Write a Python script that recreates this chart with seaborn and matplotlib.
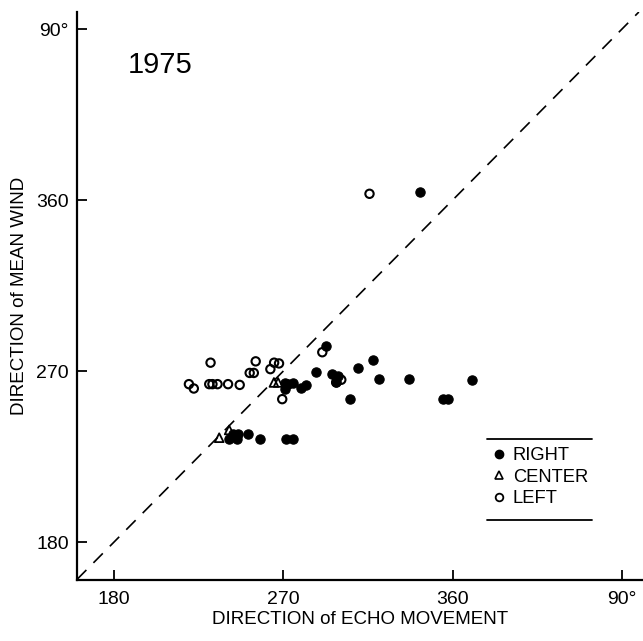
import matplotlib
matplotlib.use("Agg")
import matplotlib.pyplot as plt
from matplotlib.lines import Line2D
import seaborn as sns
import pandas as pd

# ---- data (degrees) ----
right_x = [292.5, 317.9, 309.6, 287.5, 296.0, 299.0, 297.8, 320.7, 337.0, 370.3,
           305.6, 355.0, 357.3, 270.7, 272.5, 275.1, 270.7, 279.6, 282.2,
           241.2, 245.1, 243.3, 246.0, 251.2, 257.5, 271.2, 275.1, 342.7]
right_y = [283.0, 276.0, 271.6, 269.3, 268.4, 267.5, 264.0, 265.8, 265.8, 265.4,
           255.2, 255.2, 255.2, 263.5, 263.1, 263.5, 260.8, 261.0, 262.8,
           234.0, 234.0, 237.0, 237.0, 237.0, 234.0, 234.0, 234.0, 364.2]
center_x = [265.0, 267.2, 235.9, 241.2]
center_y = [264.0, 264.0, 234.9, 239.0]
left_x = [219.8, 222.4, 231.3, 230.6, 232.3, 235.0, 240.6, 246.8, 252.1, 254.3,
          255.3, 263.1, 265.1, 267.7, 269.4, 290.7, 298.1, 300.8, 315.8]
left_y = [263.1, 260.8, 274.4, 263.1, 263.1, 263.1, 263.1, 262.7, 269.0, 269.0,
          275.1, 271.0, 274.4, 274.0, 255.2, 279.9, 264.0, 265.4, 363.3]
ticks = [180, 270, 360, 450]
tick_labels = ["180", "270", "360", "90°"]

df = pd.DataFrame({
    "echo": right_x + center_x + left_x,
    "wind": right_y + center_y + left_y,
    "side": ["RIGHT"] * len(right_x) + ["CENTER"] * len(center_x) + ["LEFT"] * len(left_x),
})

sns.set_style("white")
plt.rcParams["font.family"] = ["Liberation Sans", "DejaVu Sans"]
plt.rcParams["text.color"] = "black"
plt.rcParams["axes.labelcolor"] = "black"

fig = plt.figure(figsize=(6.43, 6.41), dpi=100)
ax = fig.add_axes([77 / 643, 61 / 641, 566 / 643, 568 / 641])
ax.set_xlim(160.3, 461.2)
ax.set_ylim(160.0, 459.0)

# identity line
ax.axline((180, 180), slope=1, color="black", lw=1.2, dashes=(8, 6), zorder=1)

styles = {
    "RIGHT": dict(marker="o", s=45, color="black", edgecolor="black", linewidth=0.8),
    "CENTER": dict(marker="^", s=40, facecolor="none", edgecolor="black", linewidth=1.3),
    "LEFT": dict(marker="o", s=36, facecolor="none", edgecolor="black", linewidth=1.5),
}
for side in ["LEFT", "CENTER", "RIGHT"]:
    sub = df[df["side"] == side]
    sns.scatterplot(data=sub, x="echo", y="wind", ax=ax, legend=False, zorder=3, **styles[side])

for sp in ["top", "right"]:
    ax.spines[sp].set_visible(False)
for sp in ["left", "bottom"]:
    ax.spines[sp].set_linewidth(1.6)
    ax.spines[sp].set_color("black")

ax.set_xticks(ticks)
ax.set_xticklabels(tick_labels)
ax.set_yticks(ticks)
ax.set_yticklabels(tick_labels)
ax.tick_params(axis="x", direction="in", length=7, width=1.3, pad=8, labelsize=14, colors="black",
               bottom=True)
ax.tick_params(axis="y", direction="in", length=7, width=1.3, pad=6, labelsize=14, colors="black",
               left=True)

ax.set_xlabel("DIRECTION of ECHO MOVEMENT", fontsize=13.5, labelpad=2)
ax.set_ylabel("DIRECTION of MEAN WIND", fontsize=13.5, labelpad=6)

ax.text(0.09, 0.906, "1975", transform=ax.transAxes, fontsize=21, ha="left", va="center")

# legend
handles = [
    Line2D([], [], linestyle="none", marker="o", markersize=6, color="black"),
    Line2D([], [], linestyle="none", marker="^", markersize=6, markerfacecolor="none",
           markeredgecolor="black", markeredgewidth=1.2),
    Line2D([], [], linestyle="none", marker="o", markersize=5.5, markerfacecolor="none",
           markeredgecolor="black", markeredgewidth=1.3),
]
ax.legend(handles, ["RIGHT", "CENTER", "LEFT"], loc="upper left",
          bbox_to_anchor=(0.736, 0.234), frameon=False, fontsize=13.2,
          handlelength=0.6, handletextpad=0.45, labelspacing=0.25, borderpad=0,
          borderaxespad=0)
for yy in [0.248, 0.106]:
    ax.add_line(Line2D([0.724, 0.910], [yy, yy], transform=ax.transAxes,
                       color="black", lw=1.3, clip_on=False))

fig.savefig("out.png", dpi=100, facecolor="white")
